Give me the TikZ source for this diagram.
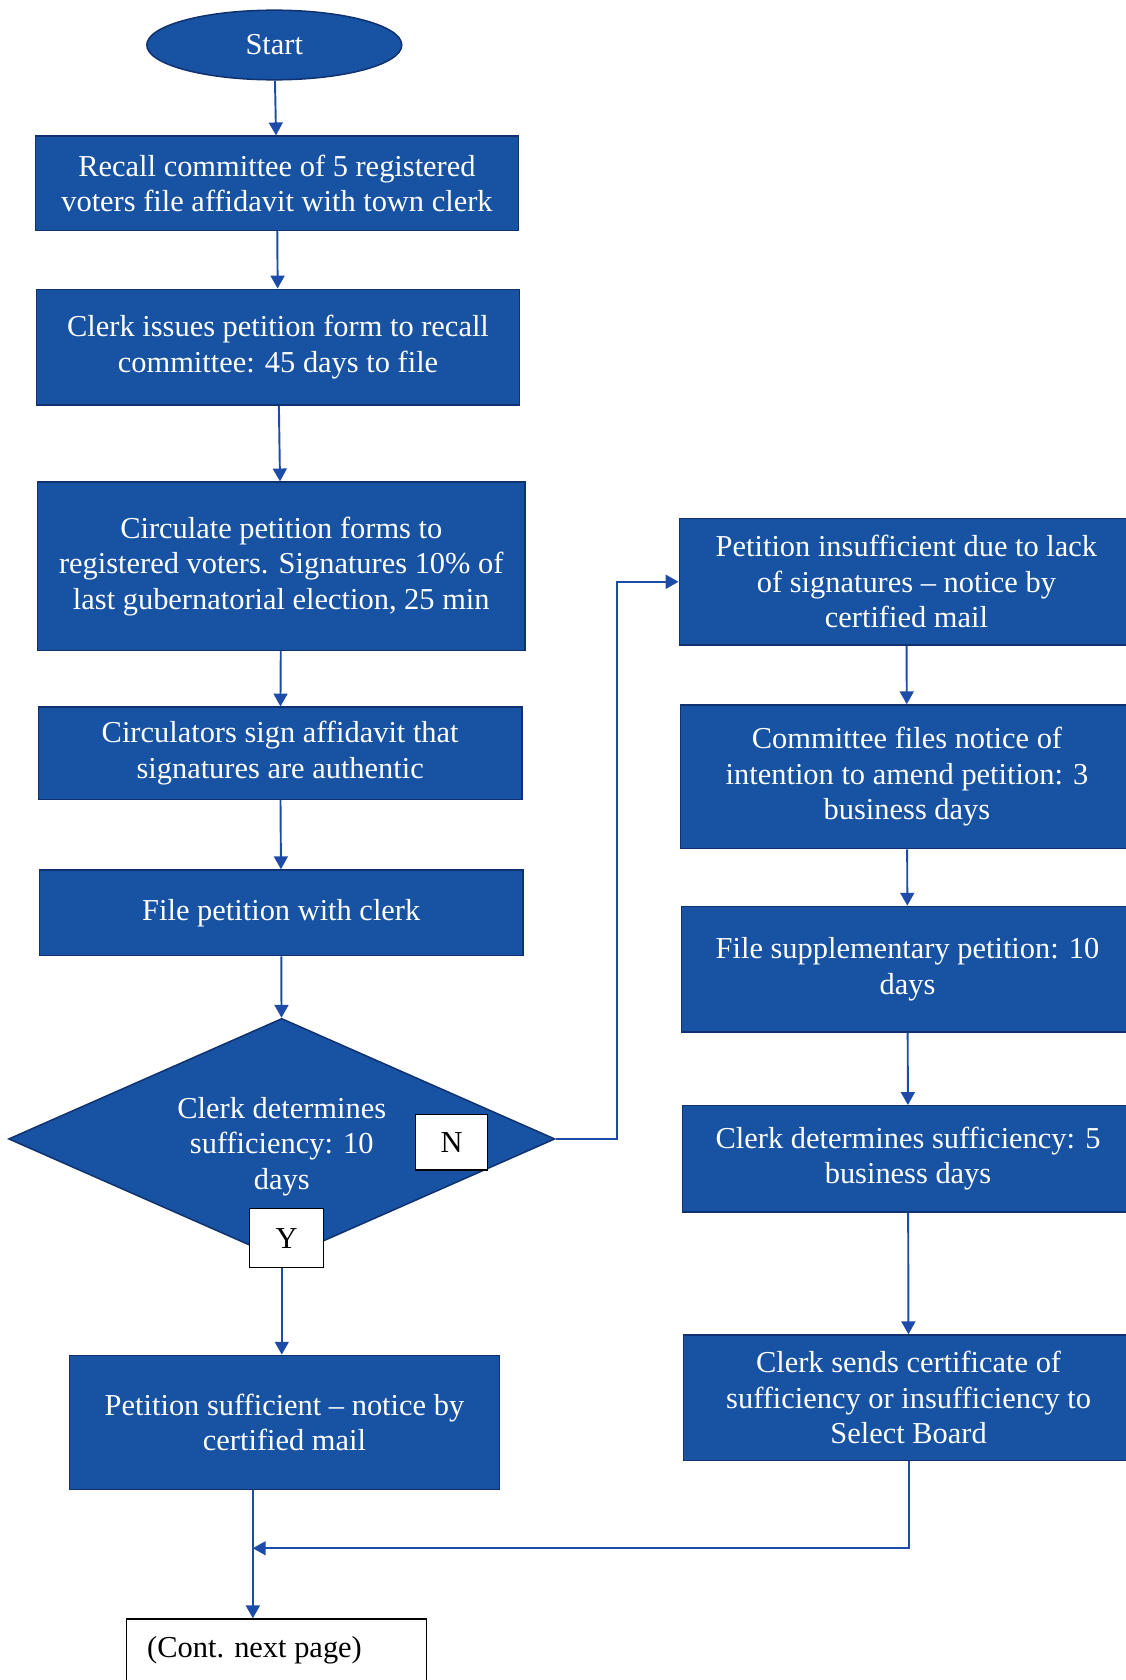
\documentclass[tikz,border=0pt]{standalone}
\usepackage{fontspec}
\setmainfont{Liberation Serif}
\usetikzlibrary{shapes.geometric,arrows.meta}
\definecolor{boxblue}{RGB}{24,82,162}
\definecolor{edgeblue}{RGB}{16,50,112}
\definecolor{linkblue}{RGB}{28,76,168}
\begin{document}
\begin{tikzpicture}[x=0.5pt,y=-0.5pt,
  txt/.style={font=\fontsize{14.2}{16.5}\selectfont},
  stepbox/.style={rectangle, draw=edgeblue, line width=0.7pt, fill=boxblue,
    text=white, align=center, inner sep=0pt, txt},
  flow/.style={draw=linkblue, line width=0.9pt,
    -{Triangle[width=6.5pt,length=6pt]}},
  tag/.style={rectangle, draw=black, line width=0.6pt, fill=white,
    inner sep=0pt, txt}
]
\useasboundingbox (0,0) rectangle (1050,1568);

% left column
\node[ellipse, draw=edgeblue, line width=0.7pt, fill=boxblue, text=white,
  inner sep=0pt, minimum width=119pt, minimum height=32.5pt, txt]
  (start) at (256,42) {Start};
\node[stepbox, minimum width=225.5pt, minimum height=44pt] (b1) at (258.5,171)
  {Recall committee of 5 registered\\voters file affidavit with town clerk};
\node[stepbox, minimum width=225.5pt, minimum height=54pt] (b2) at (259.5,324)
  {Clerk issues petition form to recall\\committee: 45 days to file};
\node[stepbox, minimum width=227.5pt, minimum height=78.5pt] (b3) at (262.5,528.5)
  {Circulate petition forms to\\registered voters. Signatures 10\% of\\last gubernatorial election, 25 min};
\node[stepbox, minimum width=225.5pt, minimum height=43pt] (b4) at (261.5,703)
  {Circulators sign affidavit that\\signatures are authentic};
\node[stepbox, minimum width=225.5pt, minimum height=40pt] (b5) at (262.5,852)
  {File petition with clerk};
\node[diamond, draw=edgeblue, line width=0.7pt, fill=boxblue, inner sep=0pt,
  minimum width=255pt, minimum height=112.5pt] (dia) at (263,1063) {};
\node[text=white, align=center, inner sep=0pt, txt] (diatext) at (263,1070)
  {Clerk determines\\sufficiency: 10\\days};
\node[stepbox, minimum width=200.5pt, minimum height=62.5pt] (b6) at (265.5,1327.5)
  {Petition sufficient -- notice by\\certified mail};
\node[tag, minimum width=140pt, minimum height=40pt] (cont) at (258,1551) {};
\node[anchor=west, inner sep=0pt, txt] (conttext) at (137,1540) {(Cont. next page)};

% right column
\node[stepbox, minimum width=212pt, minimum height=59pt] (r1) at (846,543)
  {Petition insufficient due to lack\\of signatures -- notice by\\certified mail};
\node[stepbox, minimum width=211.5pt, minimum height=67pt] (r2) at (846.5,725)
  {Committee files notice of\\intention to amend petition: 3\\business days};
\node[stepbox, minimum width=211pt, minimum height=58.5pt] (r3) at (847,904.5)
  {File supplementary petition: 10\\days};
\node[stepbox, minimum width=210.5pt, minimum height=49.5pt] (r4) at (847.5,1081.5)
  {Clerk determines sufficiency: 5\\business days};
\node[stepbox, minimum width=210pt, minimum height=58.5pt] (r5) at (848,1304.5)
  {Clerk sends certificate of\\sufficiency or insufficiency to\\Select Board};

% connectors
\coordinate (nturn) at (576,800);
\coordinate (merge) at (236,1445);
\draw[flow] (start) -- (b1);
\draw[flow] (b1) -- (b2);
\draw[flow] (b2) -- (b3);
\draw[flow] (b3) -- (b4);
\draw[flow] (b4) -- (b5);
\draw[flow] (b5) -- (dia);
\draw[flow] (dia.south) -- (dia.south |- b6.north);
\draw[flow] (dia.east) -| (nturn) |- (r1.west);
\draw[flow] (r1) -- (r2);
\draw[flow] (r2) -- (r3);
\draw[flow] (r3) -- (r4);
\draw[flow] (r4) -- (r5);
\draw[flow] (r5.south) |- (merge);
\draw[flow] (b6.south -| merge) -- (merge |- cont.north);

% decision labels
\node[tag, minimum width=33.5pt, minimum height=26pt] (nlabel) at (421.5,1066) {N};
\node[tag, minimum width=34.5pt, minimum height=27.5pt] (ylabel) at (267.5,1155.5) {Y};
\end{tikzpicture}
\end{document}
